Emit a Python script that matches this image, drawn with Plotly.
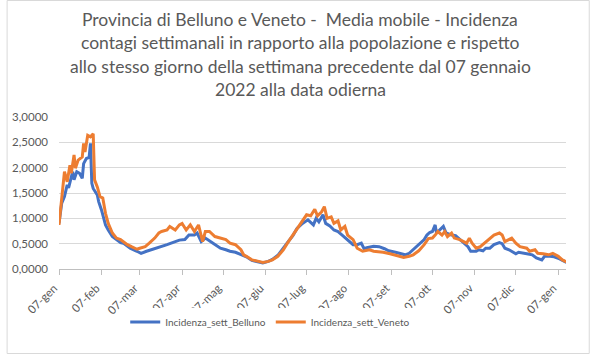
import datetime as dt
import plotly.graph_objects as go

# ---- data (day offsets from 07-gen-2022, values) ----
start_date = "2022-01-07"
belluno_days = [0, 2, 4, 6, 7, 10, 11, 13, 15, 17, 18, 20, 22, 23, 24, 25, 28, 29, 31, 34, 36, 39, 42, 45, 47, 52,
                57, 60, 64, 69, 74, 79, 82, 86, 88, 92, 95, 99, 101, 104, 107, 111, 114, 118, 122, 125, 129, 133, 135,
                137, 141, 146, 149, 153, 156, 160, 164, 167, 171, 174, 178, 182, 186, 188, 190, 193, 195, 198, 201, 204,
                207, 211, 215, 218, 221, 223, 225, 230, 234, 238, 241, 246, 250, 253, 256, 259, 263, 267, 269, 271, 273,
                275, 276, 278, 281, 283, 287, 290, 293, 296, 299, 301, 305, 307, 310, 312, 315, 318, 322, 324, 326, 329,
                331, 334, 336, 339, 342, 346, 349, 353, 355, 359, 362, 366, 371]
belluno_vals = [0.90, 1.30, 1.43, 1.66, 1.60, 1.92, 1.76, 1.92, 1.89, 1.79, 2.08, 2.18, 2.20, 2.48, 1.69, 1.59, 1.46,
                1.33, 1.17, 0.87, 0.77, 0.64, 0.58, 0.52, 0.51, 0.41, 0.35, 0.31, 0.35, 0.39, 0.44, 0.48, 0.51, 0.54,
                0.57, 0.58, 0.67, 0.67, 0.71, 0.54, 0.61, 0.54, 0.48, 0.41, 0.38, 0.35, 0.33, 0.28, 0.25, 0.24, 0.17,
                0.13, 0.12, 0.15, 0.19, 0.27, 0.40, 0.52, 0.66, 0.80, 0.90, 0.97, 0.87, 1.00, 0.93, 1.07, 0.90, 0.85,
                0.77, 0.74, 0.67, 0.58, 0.48, 0.48, 0.51, 0.40, 0.42, 0.45, 0.44, 0.40, 0.36, 0.33, 0.30, 0.28, 0.31,
                0.38, 0.48, 0.58, 0.67, 0.72, 0.74, 0.87, 0.71, 0.76, 0.84, 0.71, 0.67, 0.66, 0.58, 0.51, 0.44, 0.35,
                0.35, 0.38, 0.36, 0.41, 0.41, 0.48, 0.52, 0.50, 0.41, 0.38, 0.35, 0.30, 0.33, 0.31, 0.30, 0.28, 0.22,
                0.18, 0.25, 0.25, 0.24, 0.20, 0.13]

veneto_days = [0, 2, 4, 6, 8, 9, 11, 12, 14, 17, 18, 19, 21, 23, 25, 26, 28, 30, 32, 34, 36, 39, 42, 45, 50, 53, 57,
               59, 63, 66, 70, 73, 75, 79, 81, 85, 88, 90, 93, 96, 99, 102, 105, 107, 110, 114, 118, 122, 125, 129,
               133, 135, 137, 141, 146, 149, 153, 156, 160, 164, 167, 171, 174, 178, 181, 184, 187, 189, 192, 194, 196,
               199, 201, 204, 206, 209, 211, 215, 218, 222, 227, 230, 237, 242, 247, 252, 256, 259, 263, 267, 270, 273,
               275, 277, 280, 282, 284, 287, 289, 293, 298, 300, 302, 305, 308, 311, 313, 316, 318, 322, 324, 326, 329,
               331, 334, 337, 342, 344, 348, 350, 354, 358, 361, 365, 368, 371]
veneto_vals = [0.87, 1.45, 1.92, 1.72, 2.05, 1.89, 2.25, 1.99, 2.15, 2.21, 2.48, 2.31, 2.64, 2.61, 2.67, 1.76, 1.62,
               1.43, 1.40, 1.10, 0.90, 0.71, 0.61, 0.58, 0.48, 0.44, 0.39, 0.41, 0.44, 0.51, 0.61, 0.71, 0.74, 0.77,
               0.84, 0.77, 0.87, 0.90, 0.77, 0.87, 0.74, 0.87, 0.54, 0.74, 0.74, 0.64, 0.61, 0.58, 0.51, 0.48, 0.38,
               0.28, 0.25, 0.18, 0.15, 0.13, 0.15, 0.18, 0.25, 0.38, 0.51, 0.67, 0.81, 0.97, 1.07, 1.05, 1.18, 1.05,
               1.13, 1.23, 1.00, 1.03, 0.90, 0.95, 0.77, 0.84, 0.67, 0.58, 0.41, 0.35, 0.38, 0.35, 0.33, 0.30, 0.27,
               0.23, 0.25, 0.28, 0.36, 0.48, 0.60, 0.61, 0.67, 0.74, 0.67, 0.74, 0.64, 0.71, 0.61, 0.58, 0.51, 0.61,
               0.51, 0.41, 0.44, 0.51, 0.54, 0.61, 0.67, 0.71, 0.67, 0.54, 0.58, 0.61, 0.51, 0.44, 0.41, 0.35, 0.38,
               0.31, 0.30, 0.28, 0.31, 0.25, 0.18, 0.14]

tick_dates = ["2022-01-07", "2022-02-07", "2022-03-07", "2022-04-07", "2022-05-07", "2022-06-07", "2022-07-07",
              "2022-08-07", "2022-09-07", "2022-10-07", "2022-11-07", "2022-12-07", "2023-01-07"]
tick_labels = ["07-gen", "07-feb", "07-mar", "07-apr", "07-mag", "07-giu", "07-lug",
               "07-ago", "07-set", "07-ott", "07-nov", "07-dic", "07-gen"]
y_ticks = [0, 0.5, 1.0, 1.5, 2.0, 2.5, 3.0]

title_lines = ["Provincia di Belluno e Veneto -  Media mobile - Incidenza",
               "contagi settimanali in rapporto alla popolazione e rispetto",
               "allo stesso giorno della settimana precedente dal 07 gennaio",
               "2022 alla data odierna"]

base = dt.date.fromisoformat(start_date)
b_x = [base + dt.timedelta(days=d) for d in belluno_days]
v_x = [base + dt.timedelta(days=d) for d in veneto_days]

W, H = 590, 354
L, R, T, B = 53, 24, 117, 85
pw, ph = W - L - R, H - T - B

fig = go.Figure()
fig.add_trace(go.Scatter(x=b_x, y=belluno_vals, mode="lines", name="Incidenza_sett_Belluno",
                         line=dict(color="#4472C4", width=3)))
fig.add_trace(go.Scatter(x=v_x, y=veneto_vals, mode="lines", name="Incidenza_sett_Veneto",
                         line=dict(color="#ED7D31", width=3)))

gray = "#595959"
fig.update_layout(
    width=W, height=H,
    margin=dict(l=L, r=R, t=T, b=B, pad=0),
    paper_bgcolor="white", plot_bgcolor="white",
    separators=",.",
    font=dict(family="Lato, Open Sans, sans-serif", color=gray, size=12),
    showlegend=True,
    legend=dict(orientation="h", x=(120 - L) / pw, xanchor="left", y=(269 - 322) / ph, yanchor="middle",
                font=dict(size=10, color=gray), itemwidth=30, tracegroupgap=0),
    xaxis=dict(type="date", range=["2022-01-07", "2023-01-12 16:00"], tickvals=tick_dates, ticktext=tick_labels,
               tickangle=-45, ticks="outside", ticklen=5, tickcolor="#BFBFBF", showgrid=False,
               showline=True, linecolor="#BFBFBF", linewidth=1, tickfont=dict(size=11.5, color=gray),
               zeroline=False, ticklabelshift=-5, ticklabelstandoff=2),
    yaxis=dict(range=[0, 3.0], tickvals=y_ticks, tickformat=".4f", showgrid=True, gridcolor="#D9D9D9",
               gridwidth=1, zeroline=False, showline=False, ticks="", tickfont=dict(size=11.5, color=gray),
               ticklabelstandoff=10),
)

title_y = [19, 43, 66, 89]
for txt, yp in zip(title_lines, title_y):
    fig.add_annotation(text=txt, xref="paper", yref="paper", x=(297 - L) / pw, y=(269 - yp) / ph,
                       xanchor="center", yanchor="middle", showarrow=False,
                       font=dict(size=17.5, color=gray, family="Lato, sans-serif"))

fig.add_shape(type="rect", xref="paper", yref="paper",
              x0=(-L + 0.5) / pw, x1=(W - L - 0.5) / pw,
              y0=(-B + 0.5) / ph, y1=(ph + T - 0.5) / ph,
              line=dict(color="#D9D9D9", width=1), fillcolor="rgba(0,0,0,0)", layer="below")

fig.write_html("out.html")
